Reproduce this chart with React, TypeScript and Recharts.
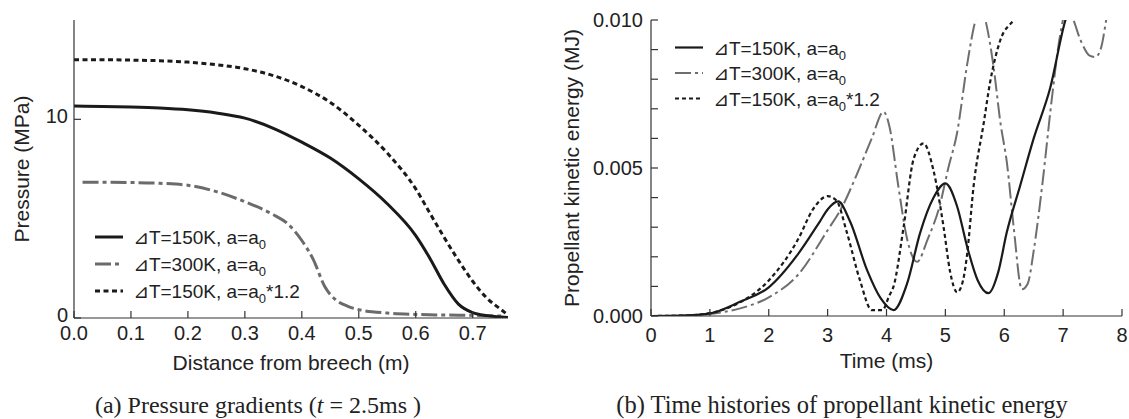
import React from 'react';
import { LineChart, Line, XAxis, YAxis, Label } from 'recharts';

// (a) pressure along the barrel, t = 2.5 ms
const distSolidA = [0, 0.05, 0.1, 0.15, 0.2, 0.25, 0.3, 0.35, 0.4, 0.45, 0.5, 0.55, 0.6, 0.625, 0.65, 0.675, 0.7, 0.725, 0.75, 0.762];
const presSolidA = [10.67, 10.65, 10.62, 10.57, 10.48, 10.32, 10.06, 9.55, 8.85, 8.05, 7.0, 5.75, 4.15, 3.0, 1.7, 0.7, 0.27, 0.12, 0.05, 0.02];

const distGrayA = [0.015, 0.05, 0.1, 0.15, 0.2, 0.25, 0.3, 0.35, 0.375, 0.4, 0.42, 0.44, 0.46, 0.48, 0.5, 0.55, 0.6, 0.65, 0.7, 0.75];
const presGrayA = [6.83, 6.83, 6.82, 6.78, 6.68, 6.36, 5.85, 5.2, 4.75, 3.9, 2.95, 1.6, 0.9, 0.6, 0.42, 0.25, 0.18, 0.15, 0.13, 0.1];

const distDotA = [0, 0.05, 0.1, 0.15, 0.2, 0.25, 0.3, 0.35, 0.4, 0.45, 0.5, 0.55, 0.6, 0.625, 0.65, 0.675, 0.7, 0.725, 0.75, 0.762];
const presDotA = [13.0, 13.0, 12.98, 12.95, 12.88, 12.75, 12.55, 12.2, 11.65, 10.85, 9.7, 8.3, 6.5, 5.27, 4.05, 2.9, 1.85, 1.0, 0.42, 0.15];

const distTicks = [0, 0.1, 0.2, 0.3, 0.4, 0.5, 0.6, 0.7];
const presTicks = [0, 10];

// (b) propellant kinetic energy vs time
const timeSolidB = [0, 0.5, 1, 1.5, 2, 2.5, 2.87, 3.0, 3.18, 3.38, 3.67, 3.9, 4.12, 4.35, 4.57, 4.8, 5.0, 5.2, 5.37, 5.55, 5.73, 5.9, 6.04, 6.27, 6.5, 6.78, 7.04, 7.2];
const energySolidB = [0, 0.00001, 0.00009, 0.00047, 0.00097, 0.0021, 0.0032, 0.0036, 0.00387, 0.0032, 0.00155, 0.0006, 0.0002, 0.0011, 0.0028, 0.004, 0.00448, 0.0037, 0.00234, 0.0012, 0.00077, 0.0015, 0.0028, 0.0044, 0.006, 0.0077, 0.01, 0.0108];

const timeGrayB = [0, 0.5, 1, 1.5, 2, 2.5, 3, 3.25, 3.5, 3.75, 3.95, 4.05, 4.2, 4.35, 4.52, 4.7, 4.9, 5.05, 5.2, 5.37, 5.5, 5.6, 5.68, 5.82, 5.93, 6.05, 6.16, 6.3, 6.4, 6.5, 6.65, 6.8, 6.95, 7.05, 7.15, 7.3, 7.45, 7.55, 7.65, 7.75, 7.85];
const energyGrayB = [0, 0.00001, 0.00007, 0.00025, 0.00063, 0.0014, 0.0029, 0.0037, 0.0048, 0.006, 0.0069, 0.0064, 0.0044, 0.0026, 0.00183, 0.0026, 0.0037, 0.005, 0.0062, 0.0085, 0.0099, 0.0105, 0.01, 0.0084, 0.0066, 0.0051, 0.003, 0.0009, 0.0011, 0.0022, 0.0045, 0.0072, 0.0095, 0.0103, 0.0101, 0.0093, 0.0088, 0.00875, 0.0091, 0.0102, 0.011];

const timeDotB = [0, 0.5, 1, 1.5, 2, 2.5, 2.75, 3, 3.15, 3.33, 3.55, 3.75, 3.93, 4.05, 4.12, 4.29, 4.46, 4.63, 4.8, 4.97, 5.08, 5.2, 5.3, 5.37, 5.48, 5.65, 5.76, 5.93, 6.16, 6.3];
const energyDotB = [0, 0.00001, 0.0001, 0.00045, 0.0012, 0.0026, 0.0036, 0.00405, 0.0039, 0.0028, 0.0012, 0.0002, 0.0002, 0.0007, 0.001, 0.003, 0.0053, 0.00583, 0.0049, 0.003, 0.0015, 0.0008, 0.0012, 0.0021, 0.0044, 0.0065, 0.0079, 0.0093, 0.01, 0.0104];

const timeTicks = [0, 1, 2, 3, 4, 5, 6, 7, 8];
const energyTicks = [0, 0.001, 0.002, 0.003, 0.004, 0.005, 0.006, 0.007, 0.008, 0.009, 0.01];

const legendNames = ['150K', '300K', '150K'];

const toPoints = (xs: number[], ys: number[]) => xs.map((x, i) => ({ x, y: ys[i] }));

const sans = '"Liberation Sans", Arial, "DejaVu Sans", sans-serif';
const serif = '"Liberation Serif", "Times New Roman", serif';
const ink = '#222';
const frame = '#333';
const tickFont = { fill: ink, fontSize: 20, fontFamily: sans };

// y tick labels sit a touch above their tick in the original
const LiftedTick = (props: any) => {
  const { x, y, payload, tickFormatter, textAnchor } = props;
  const label = tickFormatter ? tickFormatter(payload.value, payload.index) : String(payload.value);
  return (
    <text x={x} y={y - 3} textAnchor={textAnchor || 'end'} dominantBaseline="central" {...tickFont}>
      {label}
    </text>
  );
};

const yTitle = (value: string, dx: number) => (props: any) => {
  const vb = props.viewBox || {};
  const cx = (vb.x ?? 0) + dx;
  const cy = (vb.y ?? 0) + (vb.height ?? 0) / 2;
  return (
    <text x={cx} y={cy} transform={`rotate(-90 ${cx} ${cy})`} textAnchor="middle" dominantBaseline="central"
      fill={ink} fontSize={21} fontFamily={sans}>
      {value}
    </text>
  );
};

type LegendStyle = { stroke: string; dash?: string; width: number };

function LegendBox({ left, top, rows, gap, styles }: { left: number; top: number; rows: number; gap: number; styles: LegendStyle[] }) {
  return (
    <svg width={270} height={90} style={{ position: 'absolute', left, top, overflow: 'visible' }}>
      {styles.map((s, i) => {
        const y = rows + i * gap;
        return (
          <g key={i}>
            <line x1={5} x2={33} y1={y} y2={y} stroke={s.stroke} strokeWidth={s.width} strokeDasharray={s.dash} />
            <text x={43} y={y + 7} fill={ink} fontSize={19} fontFamily={sans}>
              {'⊿T=' + legendNames[i] + ', a=a'}
              <tspan dy={5} fontSize={13}>0</tspan>
              <tspan dy={-5}>{i === 2 ? '*1.2' : ''}</tspan>
            </text>
          </g>
        );
      })}
    </svg>
  );
}

const leftStyles: LegendStyle[] = [
  { stroke: '#1a1a1a', width: 3 },
  { stroke: '#6b6b6b', width: 3, dash: '16 4 4 4' },
  { stroke: '#1a1a1a', width: 3, dash: '5 3.5' },
];
const rightStyles: LegendStyle[] = [
  { stroke: '#1a1a1a', width: 2.2 },
  { stroke: '#6e6e6e', width: 2, dash: '16 4 3 4' },
  { stroke: '#1a1a1a', width: 2.2, dash: '4 3' },
];

export default function App() {
  return (
    <div style={{ position: 'absolute', left: 0, top: 0, width: 1129, height: 419, background: '#fff' }}>
      <div style={{ position: 'absolute', left: 0, top: 0 }}>
        <LineChart width={530} height={419} margin={{ top: 20, right: 22, bottom: 41, left: 14 }}>
          <XAxis xAxisId="b" dataKey="x" type="number" domain={[0, 0.762]} ticks={distTicks} allowDataOverflow
            tickFormatter={(v: number) => v.toFixed(1)} height={60} tick={tickFont}
            stroke={frame} strokeWidth={1.2} tickSize={-7} tickMargin={15} interval={0}>
            <Label value="Distance from breech (m)" position="insideBottom" offset={8} fill={ink} fontSize={21} fontFamily={sans} />
          </XAxis>
          <XAxis xAxisId="t" orientation="top" dataKey="x" type="number" domain={[0, 0.762]} ticks={distTicks} allowDataOverflow
            height={0} tick={false} stroke={frame} strokeWidth={1.2} tickSize={-7} interval={0} />
          <YAxis yAxisId="l" type="number" domain={[0, 15]} ticks={presTicks} allowDataOverflow width={60} tick={LiftedTick}
            stroke={frame} strokeWidth={1.2} tickSize={-7} tickMargin={13} interval={0}>
            <Label content={yTitle('Pressure (MPa)', 7)} />
          </YAxis>
          <YAxis yAxisId="r" orientation="right" type="number" domain={[0, 15]} ticks={[10]} allowDataOverflow width={0}
            tick={false} stroke={frame} strokeWidth={1.2} tickSize={-7} interval={0} />
          <Line xAxisId="b" yAxisId="l" data={toPoints(distGrayA, presGrayA)} dataKey="y" type="monotone" stroke="#6b6b6b"
            strokeWidth={3} strokeDasharray="16 4 4 4" dot={false} isAnimationActive={false} />
          <Line xAxisId="b" yAxisId="l" data={toPoints(distSolidA, presSolidA)} dataKey="y" type="monotone" stroke="#1a1a1a"
            strokeWidth={3} dot={false} isAnimationActive={false} />
          <Line xAxisId="b" yAxisId="l" data={toPoints(distDotA, presDotA)} dataKey="y" type="monotone" stroke="#1a1a1a"
            strokeWidth={3} strokeDasharray="5 3.5" dot={false} isAnimationActive={false} />
        </LineChart>
        <LegendBox left={90} top={222} rows={15} gap={27} styles={leftStyles} />
      </div>

      <div style={{ position: 'absolute', left: 540, top: 0 }}>
        <LineChart width={589} height={419} margin={{ top: 20, right: 7, bottom: 43, left: 16 }}>
          <XAxis xAxisId="b" dataKey="x" type="number" domain={[0, 8]} ticks={timeTicks} allowDataOverflow height={60}
            tick={tickFont} stroke={frame} strokeWidth={1.2} tickSize={-7} tickMargin={19} interval={0}>
            <Label value="Time (ms)" position="insideBottom" offset={8.5} fill={ink} fontSize={21} fontFamily={sans} />
          </XAxis>
          <XAxis xAxisId="t" orientation="top" dataKey="x" type="number" domain={[0, 8]} ticks={timeTicks} allowDataOverflow
            height={0} tick={false} stroke={frame} strokeWidth={1.2} tickSize={-7} interval={0} />
          <YAxis yAxisId="l" type="number" domain={[0, 0.01]} ticks={energyTicks} allowDataOverflow width={95}
            tick={tickFont} tickFormatter={(v: number) => (Math.round(v * 1000) % 5 === 0 ? v.toFixed(3) : '')}
            stroke={frame} strokeWidth={1.2} tickSize={-7} tickMargin={15} interval={0}>
            <Label content={yTitle('Propellant kinetic energy (MJ)', 15)} />
          </YAxis>
          <YAxis yAxisId="r" orientation="right" type="number" domain={[0, 0.01]} ticks={energyTicks} allowDataOverflow width={0}
            tick={false} stroke={frame} strokeWidth={1.2} tickSize={-7} interval={0} />
          <Line xAxisId="b" yAxisId="l" data={toPoints(timeGrayB, energyGrayB)} dataKey="y" type="monotone" stroke="#6e6e6e"
            strokeWidth={2} strokeDasharray="16 4 3 4" dot={false} isAnimationActive={false} />
          <Line xAxisId="b" yAxisId="l" data={toPoints(timeSolidB, energySolidB)} dataKey="y" type="monotone" stroke="#1a1a1a"
            strokeWidth={2.2} dot={false} isAnimationActive={false} />
          <Line xAxisId="b" yAxisId="l" data={toPoints(timeDotB, energyDotB)} dataKey="y" type="monotone" stroke="#1a1a1a"
            strokeWidth={2.2} strokeDasharray="4 3" dot={false} isAnimationActive={false} />
        </LineChart>
        <LegendBox left={130} top={32} rows={15.5} gap={25.5} styles={rightStyles} />
      </div>

      <div style={{ position: 'absolute', left: 0, top: 392, width: 516, textAlign: 'center', fontFamily: serif, fontSize: 24, lineHeight: '26px', color: ink }}>
        (a) Pressure gradients (<i>t</i> = 2.5ms )
      </div>
      <div style={{ position: 'absolute', left: 542, top: 392, width: 600, textAlign: 'center', fontFamily: serif, fontSize: 24.5, lineHeight: '26px', color: ink }}>
        (b) Time histories of propellant kinetic energy
      </div>
    </div>
  );
}
